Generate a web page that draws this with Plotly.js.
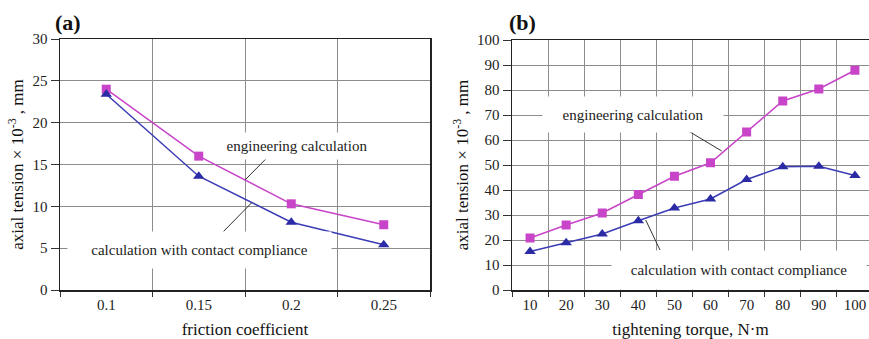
<!DOCTYPE html>
<html>
<head>
<meta charset="utf-8">
<script src="https://cdn.plot.ly/plotly-3.0.1.min.js"></script>
<style>html,body{margin:0;padding:0;background:#fff;}#chart{width:869px;height:339px;}</style>
</head>
<body>
<div id="chart"></div>
<script>
// ---- data ----
const frictionCoefficient = ['0.1', '0.15', '0.2', '0.25'];
const engineeringA = [24.0, 16.0, 10.3, 7.8];
const complianceA = [23.4, 13.6, 8.1, 5.4];

const tighteningTorque = ['10', '20', '30', '40', '50', '60', '70', '80', '90', '100'];
const engineeringB = [20.8, 26.0, 30.8, 38.2, 45.5, 50.9, 63.2, 75.6, 80.4, 87.9];
const complianceB = [15.4, 18.9, 22.4, 27.7, 32.8, 36.4, 44.2, 49.3, 49.5, 45.8];

// ---- helpers (pixel -> paper) ----
const W = 869, H = 339;
const px = v => v / W;
const py = v => 1 - v / H;

const FONT = 'Liberation Serif';
const MAG = '#C844C8';
const BLUE = '#3C3CB4';
const BLUE_M = '#2B2BA6';
const GRID = '#8c8c8c';

const magStyle = {color: MAG, width: 1.5};
const blueStyle = {color: BLUE, width: 1.5};

const traces = [
  {x: frictionCoefficient, y: engineeringA, xaxis: 'x', yaxis: 'y', type: 'scatter', mode: 'lines+markers',
   name: 'engineering calculation', line: magStyle, marker: {symbol: 'square', size: 9, color: MAG}},
  {x: frictionCoefficient, y: complianceA, xaxis: 'x', yaxis: 'y', type: 'scatter', mode: 'lines+markers',
   name: 'calculation with contact compliance', line: blueStyle, marker: {symbol: 'triangle-up', size: 10, color: BLUE_M}},
  {x: tighteningTorque, y: engineeringB, xaxis: 'x2', yaxis: 'y2', type: 'scatter', mode: 'lines+markers',
   name: 'engineering calculation', line: magStyle, marker: {symbol: 'square', size: 9, color: MAG}},
  {x: tighteningTorque, y: complianceB, xaxis: 'x2', yaxis: 'y2', type: 'scatter', mode: 'lines+markers',
   name: 'calculation with contact compliance', line: blueStyle, marker: {symbol: 'triangle-up', size: 10, color: BLUE_M}}
];

const tickFont = {family: FONT, size: 15, color: '#222'};
const titleFont = {family: FONT, size: 17, color: '#111'};
const yTitle = 'axial tension × 10<sup>-3</sup> , mm';

const xCommon = {
  type: 'category', tickson: 'boundaries', ticks: 'outside', ticklen: 5, tickcolor: '#333',
  showgrid: true, gridcolor: GRID, gridwidth: 1, showline: true, linecolor: '#222', linewidth: 1.5,
  zeroline: false, tickfont: tickFont, fixedrange: true
};
const yCommon = {
  ticks: 'outside', ticklen: 8, tickcolor: '#333', showgrid: true, gridcolor: GRID, gridwidth: 1,
  showline: true, linecolor: '#222', linewidth: 1.5, zeroline: false, tickfont: tickFont, fixedrange: true
};

const annFont = {family: FONT, size: 15, color: '#222'};
function label(text, cx, cy, w, h) {
  return {text: text, xref: 'paper', yref: 'paper', x: px(cx), y: py(cy), xanchor: 'center', yanchor: 'middle',
          showarrow: false, bgcolor: '#fff', width: w, height: h, borderpad: 0, font: annFont};
}
function leader(x0, y0, x1, y1) {
  return {type: 'line', xref: 'paper', yref: 'paper', x0: px(x0), y0: py(y0), x1: px(x1), y1: py(y1),
          line: {color: '#333', width: 1}};
}

const layout = {
  width: W, height: H,
  margin: {l: 0, r: 0, t: 0, b: 0},
  paper_bgcolor: '#fff', plot_bgcolor: '#fff',
  showlegend: false,
  font: {family: FONT, color: '#222'},
  xaxis: Object.assign({}, xCommon, {
    domain: [px(60), px(430)], anchor: 'y', range: [-0.5, 3.5], mirror: true,
    title: {text: 'friction coefficient', font: titleFont, standoff: 16}
  }),
  yaxis: Object.assign({}, yCommon, {
    domain: [py(290), py(39)], anchor: 'x', range: [0, 30], dtick: 5, mirror: true,
    title: {text: yTitle, font: titleFont, standoff: 4}
  }),
  xaxis2: Object.assign({}, xCommon, {
    domain: [px(512), 1], anchor: 'y2', range: [-0.5, 9.39], mirror: true,
    title: {text: 'tightening torque, N·m', font: titleFont, standoff: 16}
  }),
  yaxis2: Object.assign({}, yCommon, {
    domain: [py(290), py(40)], anchor: 'x2', range: [0, 100], dtick: 10, mirror: false,
    title: {text: yTitle, font: titleFont, standoff: 4}
  }),
  annotations: [
    {text: '<b>(a)</b>', xref: 'paper', yref: 'paper', x: px(68), y: py(22), xanchor: 'center', yanchor: 'middle',
     showarrow: false, font: {family: FONT, size: 22, color: '#111'}},
    {text: '<b>(b)</b>', xref: 'paper', yref: 'paper', x: px(522), y: py(22), xanchor: 'center', yanchor: 'middle',
     showarrow: false, font: {family: FONT, size: 22, color: '#111'}},
    label('engineering calculation', 297, 146, 170, 26),
    label('calculation with contact compliance', 199, 250, 263, 36),
    label('engineering calculation', 633, 114.5, 180, 35),
    label('calculation with contact compliance', 739, 269.5, 254, 38)
  ],
  shapes: [
    leader(271.7, 153, 245, 180),
    leader(223.3, 231.7, 251.7, 202.7),
    leader(686.7, 130, 721.7, 151),
    leader(660, 250, 645.7, 220)
  ]
};

Plotly.newPlot('chart', traces, layout, {displayModeBar: false, staticPlot: true});
</script>
</body>
</html>
